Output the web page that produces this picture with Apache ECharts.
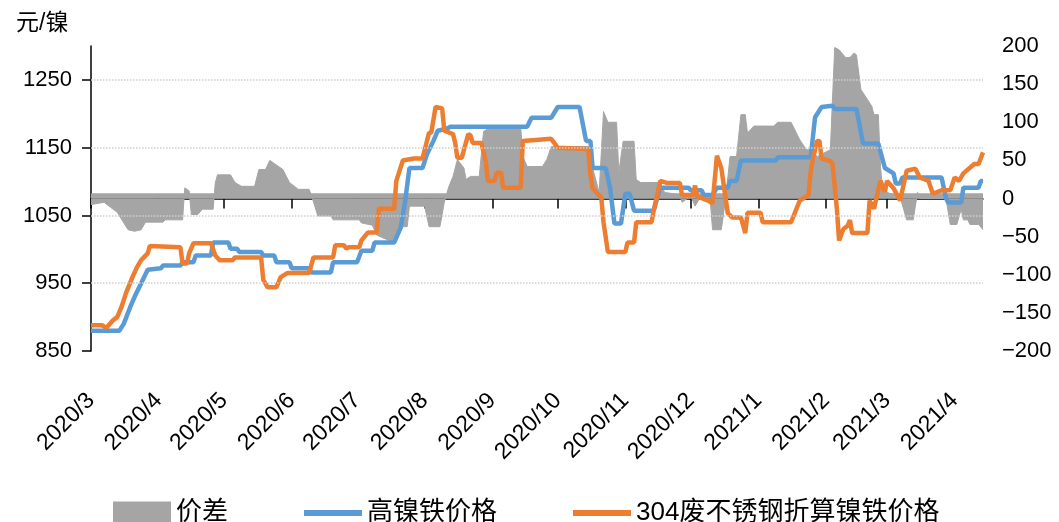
<!DOCTYPE html>
<html>
<head>
<meta charset="utf-8">
<script src="https://cdn.jsdelivr.net/npm/echarts@6/dist/echarts.min.js"></script>
<style>html,body{margin:0;padding:0;background:#fff;}#c{width:1059px;height:522px;}</style>
</head>
<body>
<div id="c"></div>
<script>
// 高镍铁价格 (left axis, 元/镍)
const highNiPrice = [['2020-03-01',880],['2020-03-14',880],['2020-03-16',890],['2020-03-19',915],['2020-03-21',930],['2020-03-24',950],['2020-03-27',970],['2020-04-02',972],['2020-04-03',976],['2020-04-11',976],['2020-04-12',981],['2020-04-17',981],['2020-04-18',991],['2020-04-25',991],['2020-04-26',1010],['2020-05-03',1010],['2020-05-04',1001],['2020-05-07',1001],['2020-05-08',996],['2020-05-18',996],['2020-05-19',991],['2020-05-24',991],['2020-05-25',981],['2020-05-31',981],['2020-06-01',972],['2020-06-09',972],['2020-06-10',966],['2020-06-19',966],['2020-06-20',981],['2020-07-01',981],['2020-07-03',998],['2020-07-08',998],['2020-07-09',1010],['2020-07-18',1010],['2020-07-21',1032],['2020-07-23',1070],['2020-07-25',1120],['2020-07-31',1120],['2020-08-02',1140],['2020-08-05',1160],['2020-08-07',1175],['2020-08-11',1178],['2020-08-13',1181],['2020-09-17',1181],['2020-09-19',1194],['2020-09-28',1194],['2020-10-01',1210],['2020-10-11',1210],['2020-10-14',1160],['2020-10-16',1160],['2020-10-17',1120],['2020-10-23',1120],['2020-10-25',1091],['2020-10-27',1038],['2020-10-30',1038],['2020-11-01',1082],['2020-11-03',1082],['2020-11-05',1057],['2020-11-14',1057],['2020-11-17',1091],['2020-11-30',1091],['2020-12-01',1087],['2020-12-06',1087],['2020-12-07',1080],['2020-12-11',1080],['2020-12-13',1091],['2020-12-18',1091],['2020-12-19',1101],['2020-12-22',1101],['2020-12-24',1131],['2021-01-09',1131],['2021-01-10',1136],['2021-01-25',1136],['2021-01-27',1195],['2021-01-30',1210],['2021-02-04',1212],['2021-02-05',1207],['2021-02-15',1207],['2021-02-18',1156],['2021-02-25',1156],['2021-02-28',1120],['2021-03-04',1112],['2021-03-05',1097],['2021-03-07',1097],['2021-03-08',1106],['2021-03-26',1106],['2021-03-28',1076],['2021-03-29',1069],['2021-04-04',1069],['2021-04-05',1091],['2021-04-12',1091],['2021-04-13',1101],['2021-04-14',1101]];

// 304废不锈钢折算镍铁价格 (left axis)
const scrapNiPrice = [['2020-03-01',888],['2020-03-06',888],['2020-03-08',884],['2020-03-11',895],['2020-03-13',900],['2020-03-15',915],['2020-03-17',935],['2020-03-20',959],['2020-03-22',973],['2020-03-24',984],['2020-03-27',994],['2020-03-28',1005],['2020-04-11',1003],['2020-04-12',979],['2020-04-14',979],['2020-04-15',994],['2020-04-17',1009],['2020-04-25',1009],['2020-04-27',991],['2020-04-29',984],['2020-05-05',984],['2020-05-06',988],['2020-05-18',988],['2020-05-19',955],['2020-05-21',944],['2020-05-25',944],['2020-05-27',959],['2020-05-30',965],['2020-06-09',965],['2020-06-11',988],['2020-06-20',988],['2020-06-21',1006],['2020-06-25',1006],['2020-06-26',1001],['2020-06-27',1003],['2020-07-02',1003],['2020-07-03',1013],['2020-07-06',1025],['2020-07-10',1025],['2020-07-11',1060],['2020-07-18',1060],['2020-07-19',1101],['2020-07-22',1131],['2020-07-27',1134],['2020-07-31',1134],['2020-08-03',1172],['2020-08-04',1172],['2020-08-06',1210],['2020-08-09',1208],['2020-08-10',1175],['2020-08-14',1170],['2020-08-15',1157],['2020-08-16',1135],['2020-08-18',1135],['2020-08-21',1170],['2020-08-22',1168],['2020-08-23',1157],['2020-08-27',1157],['2020-08-29',1130],['2020-08-30',1101],['2020-09-02',1101],['2020-09-03',1113],['2020-09-05',1113],['2020-09-06',1091],['2020-09-14',1091],['2020-09-15',1160],['2020-09-28',1163],['2020-10-01',1150],['2020-10-15',1148],['2020-10-16',1110],['2020-10-17',1090],['2020-10-21',1076],['2020-10-22',1040],['2020-10-24',996],['2020-11-01',996],['2020-11-02',1010],['2020-11-05',1010],['2020-11-06',1040],['2020-11-13',1040],['2020-11-14',1057],['2020-11-17',1101],['2020-11-20',1098],['2020-11-26',1098],['2020-11-27',1080],['2020-12-02',1080],['2020-12-03',1094],['2020-12-04',1078],['2020-12-09',1072],['2020-12-11',1068],['2020-12-13',1138],['2020-12-15',1120],['2020-12-18',1053],['2020-12-20',1047],['2020-12-24',1047],['2020-12-26',1024],['2020-12-27',1054],['2021-01-02',1054],['2021-01-03',1040],['2021-01-16',1040],['2021-01-20',1072],['2021-01-24',1080],['2021-01-25',1115],['2021-01-26',1134],['2021-01-28',1160],['2021-01-29',1160],['2021-01-30',1134],['2021-02-03',1130],['2021-02-04',1126],['2021-02-06',1060],['2021-02-07',1013],['2021-02-09',1030],['2021-02-11',1035],['2021-02-12',1043],['2021-02-13',1024],['2021-02-20',1024],['2021-02-21',1072],['2021-02-23',1060],['2021-02-26',1101],['2021-02-28',1085],['2021-03-01',1101],['2021-03-04',1090],['2021-03-07',1072],['2021-03-10',1116],['2021-03-14',1119],['2021-03-16',1106],['2021-03-20',1101],['2021-03-22',1082],['2021-03-26',1087],['2021-03-30',1087],['2021-04-01',1106],['2021-04-03',1101],['2021-04-05',1112],['2021-04-10',1126],['2021-04-12',1126],['2021-04-14',1143]];

// 价差 (right axis)
const spread = [['2020-03-01',-8],['2020-03-07',-5],['2020-03-13',-18],['2020-03-18',-41],['2020-03-21',-43],['2020-03-24',-41],['2020-03-26',-31],['2020-04-03',-31],['2020-04-04',-28],['2020-04-12',-28],['2020-04-13',14],['2020-04-15',10],['2020-04-16',-21],['2020-04-19',-21],['2020-04-21',-14],['2020-04-26',-14],['2020-04-27',21],['2020-04-28',31],['2020-05-04',31],['2020-05-06',21],['2020-05-09',16],['2020-05-15',16],['2020-05-17',38],['2020-05-20',38],['2020-05-22',50],['2020-05-24',46],['2020-05-28',38],['2020-05-31',21],['2020-06-04',12],['2020-06-09',12],['2020-06-10',5],['2020-06-13',-23],['2020-06-19',-23],['2020-06-20',-28],['2020-07-02',-28],['2020-07-03',-32],['2020-07-08',-35],['2020-07-10',-48],['2020-07-18',-58],['2020-07-21',-37],['2020-07-24',-37],['2020-07-25',-10],['2020-08-01',-10],['2020-08-03',-37],['2020-08-08',-37],['2020-08-10',-5],['2020-08-12',15],['2020-08-14',29],['2020-08-16',51],['2020-08-19',40],['2020-08-20',25],['2020-08-22',29],['2020-08-26',29],['2020-08-28',88],['2020-09-01',95],['2020-09-14',95],['2020-09-15',55],['2020-09-17',42],['2020-09-24',42],['2020-09-26',51],['2020-09-28',68],['2020-10-15',68],['2020-10-17',40],['2020-10-20',8],['2020-10-22',114],['2020-10-24',100],['2020-10-28',100],['2020-10-29',34],['2020-10-31',75],['2020-11-05',75],['2020-11-06',25],['2020-11-08',21],['2020-11-17',21],['2020-11-19',8],['2020-11-26',5],['2020-11-27',-5],['2020-12-01',3],['2020-12-03',-10],['2020-12-05',0],['2020-12-10',-5],['2020-12-11',-41],['2020-12-15',-41],['2020-12-17',0],['2020-12-19',55],['2020-12-22',55],['2020-12-24',110],['2020-12-26',110],['2020-12-27',86],['2020-12-30',95],['2021-01-08',95],['2021-01-10',100],['2021-01-16',100],['2021-01-20',77],['2021-01-23',64],['2021-01-25',64],['2021-01-28',55],['2021-02-03',64],['2021-02-05',198],['2021-02-07',195],['2021-02-10',185],['2021-02-12',185],['2021-02-14',191],['2021-02-15',188],['2021-02-17',143],['2021-02-20',130],['2021-02-22',121],['2021-02-23',110],['2021-02-25',110],['2021-02-26',42],['2021-02-27',10],['2021-03-07',2],['2021-03-10',-28],['2021-03-13',-28],['2021-03-15',8],['2021-03-16',0],['2021-03-28',0],['2021-03-30',-34],['2021-04-02',-34],['2021-04-04',-14],['2021-04-05',-28],['2021-04-07',-28],['2021-04-08',-34],['2021-04-12',-34],['2021-04-14',-41]];

const leftGridValues = [950, 1050, 1150, 1250];
const seriesNames = ['价差', '高镍铁价格', '304废不锈钢折算镍铁价格'];

const FONT = "'Liberation Sans', Arial, 'Noto Sans CJK SC', sans-serif";
const GRAY = '#A5A5A5', BLUE = '#5B9BD5', ORANGE = '#ED7D31';
// legend line icon: a 6px bar centred in a 58x23 box
const LINE_ICON = 'path://M0,0 M0,8.5 L58,8.5 L58,14.5 L0,14.5 Z M58,23';

const chart = echarts.init(document.getElementById('c'), null, {renderer: 'canvas'});
chart.setOption({
  animation: false,
  textStyle: {fontFamily: FONT, color: '#000'},
  title: {text: '元/镍', left: 11, top: 7, textStyle: {fontFamily: FONT, fontSize: 23, fontWeight: 'normal', color: '#000'}},
  grid: {left: 91, right: 76, top: 46, bottom: 171},
  legend: {
    left: 108, top: 495, itemWidth: 58, itemHeight: 23, itemGap: 76,
    textStyle: {fontFamily: FONT, fontSize: 26, color: '#000'},
    data: [{name: seriesNames[0], icon: 'rect'}, {name: seriesNames[1], icon: LINE_ICON}, {name: seriesNames[2], icon: LINE_ICON}]
  },
  xAxis: {
    type: 'time', min: '2020-03-01', max: '2021-04-14',
    splitNumber: 14, minInterval: 28 * 86400000, maxInterval: 31 * 86400000,
    axisLine: {lineStyle: {color: '#000', width: 1.5}},
    axisTick: {length: 10, lineStyle: {color: '#000', width: 1.5}},
    axisLabel: {
      rotate: 45, fontSize: 23, margin: 46, color: '#000', fontFamily: FONT,
      formatter: function (v) { const d = new Date(v); if (d.getDate() !== 1) return ''; return d.getFullYear() + '/' + (d.getMonth() + 1); }
    },
    splitLine: {show: false}
  },
  yAxis: [{
    type: 'value', min: 850, max: 1300, interval: 100,
    axisLine: {show: true, lineStyle: {color: '#000', width: 1.5}},
    axisTick: {show: true, length: 9, lineStyle: {color: '#000', width: 1.5}},
    axisLabel: {fontSize: 22, margin: 19, color: '#000', showMaxLabel: false, fontFamily: FONT, formatter: function (v) { return String(v); }},
    splitLine: {show: false}
  }, {
    type: 'value', min: -200, max: 200, interval: 50,
    axisLine: {show: false}, axisTick: {show: false},
    axisLabel: {fontSize: 22, margin: 19, color: '#000', fontFamily: FONT, formatter: function (v) { return String(v).replace('-', '\u2212'); }},
    splitLine: {show: false}
  }],
  series: [{
    name: seriesNames[0], type: 'line', yAxisIndex: 1, data: spread,
    showSymbol: false, symbol: 'none',
    itemStyle: {color: GRAY},
    lineStyle: {color: GRAY, width: 1},
    areaStyle: {color: GRAY, opacity: 1, origin: 0},
    markArea: {silent: true, itemStyle: {color: GRAY}, label: {show: false}, data: [[{yAxis: 0}, {yAxis: 7}]]},
    z: 1
  }, {
    name: seriesNames[1], type: 'line', yAxisIndex: 0, data: highNiPrice,
    showSymbol: false, symbol: 'none',
    itemStyle: {color: BLUE}, lineStyle: {color: BLUE, width: 4.5},
    markLine: {silent: true, symbol: 'none', label: {show: false}, lineStyle: {color: '#D0D0D0', type: 'dotted', width: 1.5}, data: leftGridValues.map(v => ({yAxis: v}))},
    z: 3
  }, {
    name: seriesNames[2], type: 'line', yAxisIndex: 0, data: scrapNiPrice,
    showSymbol: false, symbol: 'none',
    itemStyle: {color: ORANGE}, lineStyle: {color: ORANGE, width: 4.5},
    z: 4
  }]
});
</script>
</body>
</html>
